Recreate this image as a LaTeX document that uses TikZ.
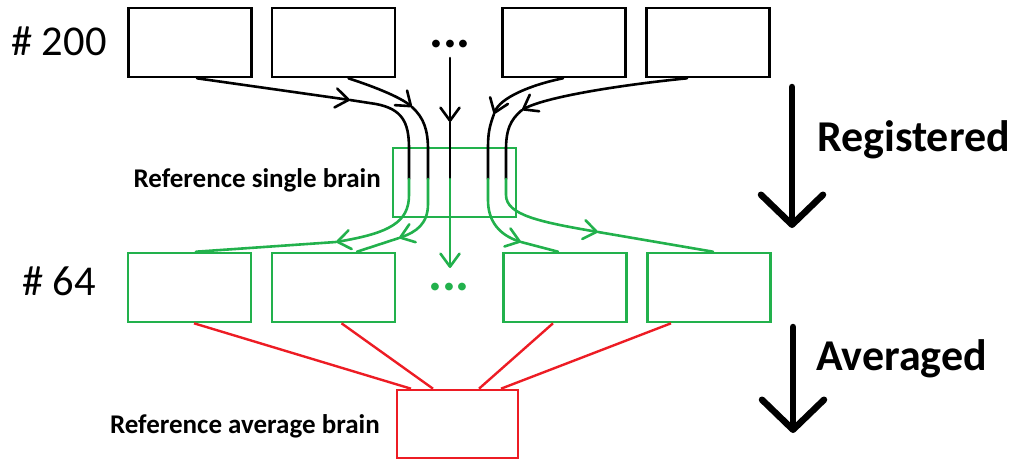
\documentclass[tikz,border=0pt]{standalone}
\usepackage{fontspec}
\setmainfont{Carlito}
\usetikzlibrary{arrows.meta,calc}
\definecolor{pgreen}{RGB}{34,177,76}
\definecolor{pred}{RGB}{237,28,36}

\begin{document}
\begin{tikzpicture}[x=1pt,y=-1pt,
  box/.style={draw, rectangle, minimum width=123pt, minimum height=69pt, inner sep=0pt, line width=2.6pt},
  inbox/.style={box, draw=black},
  regbox/.style={box, draw=pgreen},
  avgbox/.style={box, draw=pred, minimum width=121pt, minimum height=68pt},
  flow/.style={line width=2.6pt, line cap=round},
  tip/.style={-{Straight Barb[length=13pt,width=19pt,round]}},
  link/.style={draw=pred, line width=2.4pt},
  bigarrow/.style={line width=6.5pt, line cap=round, -{Straight Barb[length=30pt,width=62pt,round]}},
  lbl/.style={inner sep=0pt, font=\bfseries\fontsize{27}{27}\selectfont},
  count/.style={inner sep=0pt, font=\fontsize{42.5}{42.5}\selectfont},
  stage/.style={inner sep=0pt, font=\bfseries\fontsize{44}{44}\selectfont},
  ellip/.style={inner sep=0pt, font=\bfseries\fontsize{52}{52}\selectfont},
  ]
\useasboundingbox (0,0) rectangle (1021,461);

% input images (200)
\node[inbox] (b1) at (190,42.5) {};
\node[inbox] (b2) at (333.5,42.5) {};
\node[inbox] (b3) at (564,42.5) {};
\node[inbox] (b4) at (708,42.5) {};
\node[count, anchor=base west] (n200) at (11,55) {\# 200};
\node[ellip, anchor=base] (dots) at (450,47) {...};

% reference single brain
\node[regbox] (single) at (454.5,182.5) {};
\node[lbl, anchor=base east] (singlelbl) at (381,187) {Reference single brain};

% registered images (64)
\node[regbox] (g1) at (189.5,287.5) {};
\node[regbox] (g2) at (333.5,287.5) {};
\node[regbox] (g3) at (565,287.5) {};
\node[regbox] (g4) at (709,287.5) {};
\node[count, anchor=base west] (n64) at (22,295) {\# 64};
\node[ellip, anchor=base, text=pgreen] (gdots) at (449,290) {...};

% reference average brain
\node[avgbox] (avg) at (457.5,424) {};
\node[lbl, anchor=base east] (avglbl) at (380,433) {Reference average brain};

% colour switch points inside the single brain box
\coordinate (sA) at (409,179);
\coordinate (sB) at (428,179);
\coordinate (sM) at (450,179);
\coordinate (sD) at (488,179);
\coordinate (sE) at (506,179);
\coordinate (mEnd) at (450,268);

% path A
\draw[flow,tip] ([xshift=7pt]b1.south) -- (350,100);
\draw[flow] (350,100) -- (376,104) .. controls (402,109) and (409,122) .. (409,148) -- (sA);
\draw[flow,pgreen,tip] (sA) -- (409,195) .. controls (409,222) and (390,233) .. (336,242);
\draw[flow,pgreen] (336,242) -- ([xshift=6.5pt]g1.north);

% path B
\draw[flow,tip] ([xshift=15pt]b2.south) .. controls (375,87) and (400,97) .. (412,107);
\draw[flow] (412,107) .. controls (424,118) and (428,130) .. (428,150) -- (sB);
\draw[flow,pgreen,tip] (sB) -- (428,204) .. controls (428,224) and (416,232) .. (399,238);
\draw[flow,pgreen] (399,238) -- ([xshift=23.5pt]g2.north);

% middle path
\draw[flow,tip] ([yshift=-11pt]dots.base) -- (450,122);
\draw[flow] (450,122) -- (sM);
\draw[flow,pgreen,tip] (sM) -- (mEnd);

% path D
\draw[flow,tip] ([xshift=-1pt]b3.south) .. controls (530,85) and (500,98) .. (494,114);
\draw[flow] (494,114) .. controls (490,125) and (488,132) .. (488,147) -- (sD);
\draw[flow,pgreen,tip] (sD) -- (488,200) .. controls (488,222) and (500,235) .. (521,242);
\draw[flow,pgreen] (521,242) -- ([xshift=-7pt]g3.north);

% path E
\draw[flow,tip] ([xshift=-21pt]b4.south) .. controls (620,85) and (545,97) .. (522,110);
\draw[flow] (522,110) .. controls (510,120) and (506,130) .. (506,150) -- (sE);
\draw[flow,pgreen,tip] (sE) -- (506,195) .. controls (506,215) and (540,222) .. (598,232);
\draw[flow,pgreen] (598,232) -- ([xshift=4pt]g4.north);

% averaging links
\draw[link] ([xshift=4.5pt]g1.south) -- ([xshift=-46.5pt]avg.north);
\draw[link] ([xshift=8pt]g2.south) -- ([xshift=-24.5pt]avg.north);
\draw[link] ([xshift=-12pt]g3.south) -- ([xshift=21.5pt]avg.north);
\draw[link] ([xshift=-38pt]g4.south) -- ([xshift=43.5pt]avg.north);

% stage arrows
\coordinate (regTop) at (792,87);
\coordinate (regTip) at (792,228);
\coordinate (avgTop) at (793,327);
\coordinate (avgTip) at (793,433);
\draw[bigarrow] (regTop) -- (regTip);
\draw[bigarrow] (avgTop) -- (avgTip);
\node[stage, anchor=base west] (reglbl) at (817,151) {Registered};
\node[stage, anchor=base west] (avglbl2) at (816,370) {Averaged};
\end{tikzpicture}
\end{document}
